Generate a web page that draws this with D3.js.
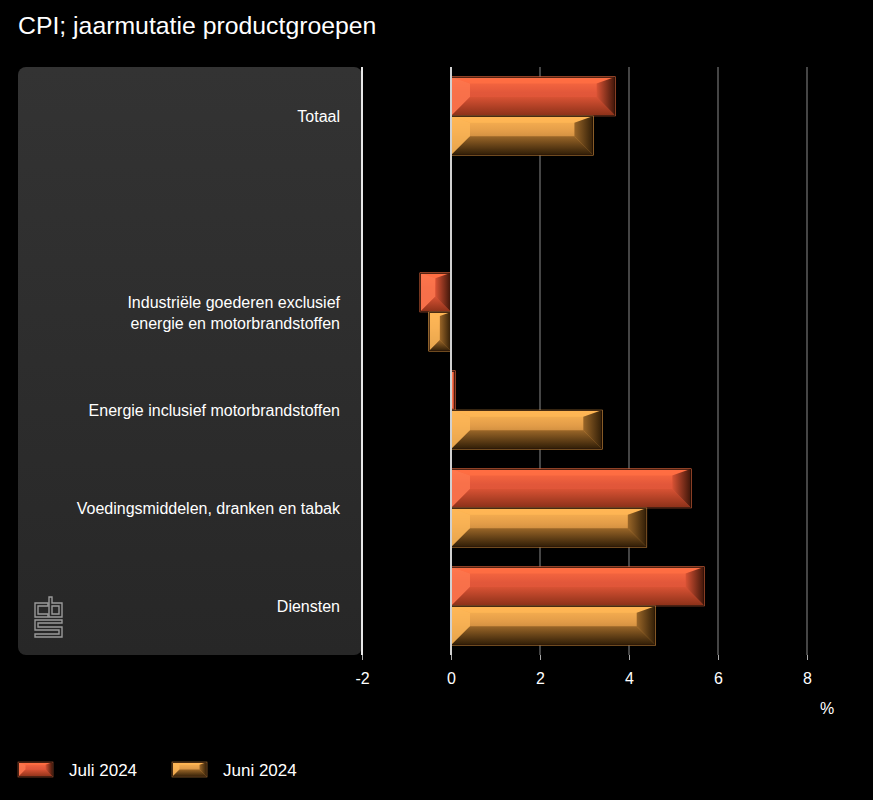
<!DOCTYPE html>
<html><head><meta charset="utf-8">
<script src="https://cdn.jsdelivr.net/npm/d3@7"></script>
<style>
html,body{margin:0;padding:0;background:#000;}
svg{display:block;font-family:"Liberation Sans",Arial,sans-serif;}
</style></head>
<body>
<svg id="chart" width="873" height="800"></svg>
<script>
const title = "CPI; jaarmutatie productgroepen";
const categories = ["Totaal", " ", "Industriële goederen exclusief energie en motorbrandstoffen", "Energie inclusief motorbrandstoffen", "Voedingsmiddelen, dranken en tabak", "Diensten"];
const seriesNames = ["Juli 2024", "Juni 2024"];
const juli2024 = [3.7, null, -0.7, 0.1, 5.4, 5.7];
const juni2024 = [3.2, null, -0.5, 3.4, 4.4, 4.6];
const xTicks = [-2, 0, 2, 4, 6, 8];
const unitLabel = "%";

(function(){
const svg = d3.select("#chart");
const W = 873, H = 800;
const plotTop = 67, plotBottom = 655, plotLeft = 362, plotRight = 807;

const defs = svg.append("defs");
const palettes = [
  {light:"#ff6e42", face:"#e2573a", faceBot:"#d85234", botDark:"#8a3018", dark:"#3a1408", edge:"#ff7a4a",
   leftLight:"#ff7a50"},
  {light:"#ffb654", face:"#e29c48", faceBot:"#9a6628", botDark:"#2e1c06", dark:"#2e1c06", edge:"#ffb050",
   leftLight:"#ffb858"}
];
palettes.forEach((p,i)=>{
  const g = defs.append("linearGradient").attr("id","face"+i).attr("x1",0).attr("y1",0).attr("x2",0).attr("y2",1);
  g.append("stop").attr("offset","0%").attr("stop-color",p.light);
  g.append("stop").attr("offset","40%").attr("stop-color",p.face);
  g.append("stop").attr("offset","100%").attr("stop-color",p.faceBot);
  const b = defs.append("linearGradient").attr("id","bot"+i).attr("x1",0).attr("y1",0).attr("x2",0).attr("y2",1);
  b.append("stop").attr("offset","0%").attr("stop-color",p.faceBot);
  b.append("stop").attr("offset","100%").attr("stop-color",p.botDark);
  const r = defs.append("linearGradient").attr("id","rgt"+i).attr("x1",0).attr("y1",0).attr("x2",1).attr("y2",0);
  r.append("stop").attr("offset","0%").attr("stop-color",p.faceBot);
  r.append("stop").attr("offset","100%").attr("stop-color",p.dark);
});
const pg = defs.append("linearGradient").attr("id","panel").attr("x1",0).attr("y1",0).attr("x2",0).attr("y2",1);
pg.append("stop").attr("offset","0%").attr("stop-color","#333333");
pg.append("stop").attr("offset","100%").attr("stop-color","#272727");

svg.append("rect").attr("width",W).attr("height",H).attr("fill","#000");

svg.append("text").attr("x",18).attr("y",34).attr("fill","#fff")
  .attr("font-size",24.8).text(title);

// label panel
svg.append("rect").attr("x",18).attr("y",plotTop).attr("width",plotLeft-18).attr("height",plotBottom-plotTop)
  .attr("rx",8).attr("fill","url(#panel)");

const x = d3.scaleLinear().domain([-2,8]).range([plotLeft,plotRight]);
const y = d3.scaleBand().domain(categories).range([plotTop,plotBottom]).paddingInner(0.2).paddingOuter(0.1);
const ySub = d3.scaleBand().domain(seriesNames).range([0,y.bandwidth()]);

// gridlines
svg.append("g").selectAll("line").data(xTicks.filter(t=>t>0)).join("line")
  .attr("x1",d=>x(d)).attr("x2",d=>x(d)).attr("y1",plotTop).attr("y2",plotBottom)
  .attr("stroke","#8a8a8a").attr("stroke-width",1);
svg.append("line").attr("x1",x(-2)).attr("x2",x(-2)).attr("y1",plotTop).attr("y2",plotBottom)
  .attr("stroke","#e8e8e8").attr("stroke-width",2);

// axis
const axis = d3.axisBottom(x).tickValues(xTicks).tickSize(5).tickPadding(13).tickFormat(d3.format("d"));
const ag = svg.append("g").attr("transform",`translate(0,${plotBottom})`).call(axis);
ag.select(".domain").remove();
ag.selectAll(".tick line").attr("stroke","#aaa");
ag.selectAll(".tick text").attr("fill","#fff").attr("font-size",16)
  .attr("font-family","'Liberation Sans',Arial,sans-serif");
ag.selectAll(".tick text").filter(d=>d<0).text(d=>"-"+Math.abs(d));
svg.append("text").attr("x",827).attr("y",714).attr("text-anchor","middle").attr("fill","#fff")
  .attr("font-size",16).text(unitLabel);

// category labels
const lab = svg.append("g");
categories.forEach(c=>{
  if(!c.trim()) return;
  const cy = y(c)+y.bandwidth()/2;
  const words = c.split(" ");
  const lines = [];
  let cur = "";
  const maxLen = 36;
  words.forEach(w=>{
    const t = cur ? cur+" "+w : w;
    if(t.length>maxLen && cur){lines.push(cur); cur=w;} else cur=t;
  });
  lines.push(cur);
  const lh = 21;
  const t = lab.append("text").attr("text-anchor","end").attr("fill","#fff").attr("font-size",16);
  lines.forEach((l,i)=>{
    t.append("tspan").attr("x",340).attr("y",cy+(i-(lines.length-1)/2)*lh+6).text(l);
  });
});

// bars
function bevelBar(g, x0, y0, w, h, i){
  if(w<=0) return;
  const p = palettes[i];
  const b = Math.min(h*0.5, w*0.5, 19);
  const bt = b*0.35;
  const x1 = x0+w, y1 = y0+h;
  g.append("rect").attr("x",x0).attr("y",y0).attr("width",w).attr("height",h).attr("fill","url(#face"+i+")");
  g.append("polygon").attr("points",`${x0},${y0} ${x1},${y0} ${x1-b},${y0+bt} ${x0+b},${y0+bt}`)
    .attr("fill",p.light).attr("opacity",0.9);
  g.append("polygon").attr("points",`${x0},${y0} ${x0+b},${y0+bt} ${x0+b},${y1-b} ${x0},${y1}`)
    .attr("fill",p.leftLight).attr("opacity",0.75);
  g.append("polygon").attr("points",`${x0},${y1} ${x0+b},${y1-b} ${x1-b},${y1-b} ${x1},${y1}`)
    .attr("fill","url(#bot"+i+")");
  g.append("polygon").attr("points",`${x1},${y0} ${x1},${y1} ${x1-b},${y1-b} ${x1-b},${y0+bt}`)
    .attr("fill","url(#rgt"+i+")");
  g.append("rect").attr("x",x0+0.5).attr("y",y0+0.5).attr("width",Math.max(w-1,0)).attr("height",h-1)
    .attr("fill","none").attr("stroke","#1a0a04").attr("stroke-width",1);
  g.append("rect").attr("x",x0).attr("y",y0).attr("width",w).attr("height",h)
    .attr("fill","none").attr("stroke",p.edge).attr("stroke-width",0.6).attr("opacity",0.7);
}
const barsG = svg.append("g");
[juli2024, juni2024].forEach((vals,i)=>{
  vals.forEach((v,k)=>{
    if(v===null) return;
    const c = categories[k];
    const x0 = x(Math.min(0,v)), w = Math.abs(x(v)-x(0));
    const y0 = y(c)+ySub(seriesNames[i]);
    bevelBar(barsG.append("g"), x0, y0, w, ySub.bandwidth(), i);
  });
});

// zero line
svg.append("line").attr("x1",x(0)).attr("x2",x(0)).attr("y1",plotTop).attr("y2",plotBottom)
  .attr("stroke","#d0d0d0").attr("stroke-width",2);

// CBS logo
const logo = svg.append("g").attr("fill","none").attr("stroke","#9a9a9a").attr("stroke-width",1.4);
logo.append("path").attr("d","M48,603 H35 V617 H48 V614 H38 V606 H48 Z");
logo.append("path").attr("d","M49,597 H52 V603 H62 V617 H49 Z M52,606 V614 H59 V606 Z");
logo.append("path").attr("d","M35,620 H62 V623 H38 V627 H62 V637 H35 V634 H59 V630 H35 Z");

// legend
const leg = svg.append("g");
const legX = [18, 172];
seriesNames.forEach((s,i)=>{
  bevelBar(leg.append("g"), legX[i], 762, 35, 15, i);
  leg.append("text").attr("x",legX[i]+51).attr("y",776).attr("fill","#fff").attr("font-size",17).text(s);
});
})();
</script>
</body></html>
